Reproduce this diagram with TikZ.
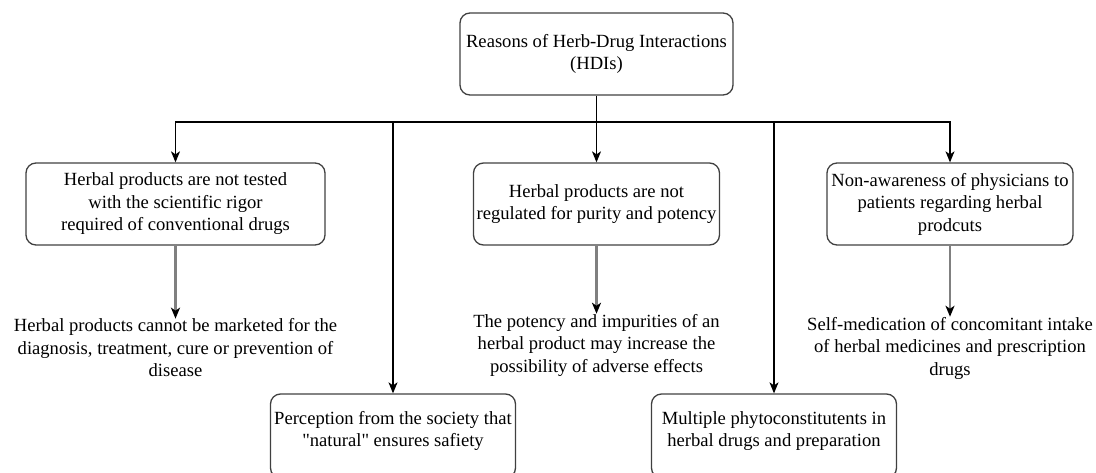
\documentclass[tikz,border=0pt]{standalone}
\usepackage{fontspec}
\setmainfont{Liberation Serif}
\usetikzlibrary{arrows.meta}

\newcommand{\txtfont}{\fontsize{18.6}{22.5}\selectfont}
% a straight double quote, without the TeX ligature mapping
\newcommand{\straightquote}{{\addfontfeatures{Ligatures=TeXOff}"}}
\tikzset{
  reason/.style={draw=black!75, line width=1.3pt, rounded corners=10pt,
    align=center, inner sep=0pt, font=\txtfont},
  effect/.style={align=center, inner xsep=4pt, inner ysep=0pt, font=\txtfont},
  caption/.style={align=center, inner sep=0pt, font=\txtfont},
  link/.style={line width=1.2pt, -{Stealth[length=11pt,width=9pt,inset=3pt]}},
  consequence/.style={line width=2.2pt, draw=black!50,
    -{Stealth[length=11pt,width=9pt,inset=3pt,color=black]}}
}

\begin{document}
\begin{tikzpicture}[x=1pt, y=-1pt]
  \useasboundingbox (0,0) rectangle (1096,472);

  % root
  \node[reason, minimum width=273pt, minimum height=82pt] (root) at (596.5,54)
    {Reasons of Herb-Drug Interactions\\(HDIs)};

  % junction of the distribution line
  \coordinate (bus) at (596.5,122);

  % first row of reasons
  \node[reason, minimum width=299pt, minimum height=82pt] (testing) at (175.5,204)
    {Herbal products are not tested\\with the scientific rigor\\required of conventional drugs};
  \node[reason, minimum width=246pt, minimum height=82pt] (regulation) at (596.5,204)
    {Herbal products are not\\regulated for purity and potency};
  \node[reason, minimum width=246pt, minimum height=82pt] (awareness) at (950,204)
    {Non-awareness of physicians to\\patients regarding herbal\\prodcuts};

  % consequences
  \node[effect] (marketing) at (175.5,348)
    {Herbal products cannot be marketed for the\\diagnosis, treatment, cure or prevention of\\disease};
  \node[effect] (adverse) at (596.5,345)
    {The potency and impurities of an\\herbal product may increase the\\possibility of adverse effects};
  \node[effect] (selfmed) at (950,348)
    {Self-medication of concomitant intake\\of herbal medicines and prescription\\drugs};

  % second row of reasons (cut by the lower edge)
  \node[reason, minimum width=245pt, minimum height=84pt] (society) at (393,436) {};
  \node[caption] (societytext) at (393,431)
    {Perception from the society that\\\straightquote natural\straightquote{} ensures safiety};
  \node[reason, minimum width=245pt, minimum height=84pt] (phyto) at (774,436) {};
  \node[caption] (phytotext) at (774,431)
    {Multiple phytoconstitutents in\\herbal drugs and preparation};

  % connectors
  \draw[link] (root.south) -- (regulation.north);
  \draw[link] (bus) -| (testing.north);
  \draw[link] (bus) -| (awareness.north);
  \draw[link] (bus) -| (society.north);
  \draw[link] (bus) -| (phyto.north);

  \draw[consequence] (testing.south) -- (marketing.north);
  \draw[consequence] (regulation.south) -- (adverse.north);
  \draw[consequence] (awareness.south) -- (selfmed.north);
\end{tikzpicture}
\end{document}
